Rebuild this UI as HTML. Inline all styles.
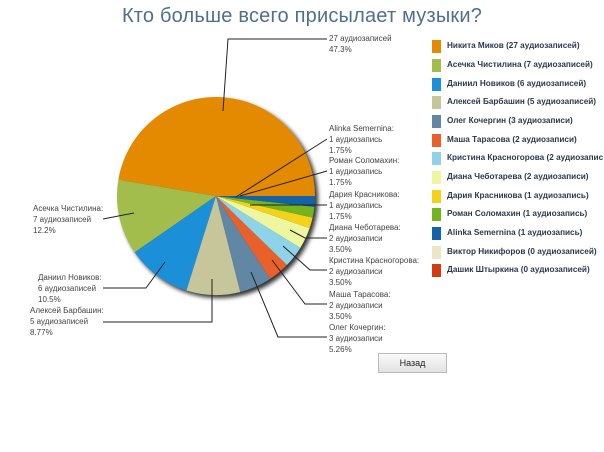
<!DOCTYPE html>
<html><head><meta charset="utf-8"><style>
body{margin:0;width:604px;height:452px;background:#fff;overflow:hidden;position:relative;font-family:"Liberation Sans","DejaVu Sans",sans-serif}
.t{position:absolute;left:0;top:5px;width:604px;text-align:center;font-size:20px;color:#4f6f8f;letter-spacing:0.2px}
.lab{position:absolute;font-size:8px;line-height:11px;color:#444}
.lg{position:absolute;left:432px;width:180px;font-size:8.2px;font-weight:bold;color:#2b3a4a;white-space:nowrap}
.lg i{position:absolute;left:0;top:0;width:9px;height:13px}
.lg span{position:absolute;left:15px;top:1px}
.btn{position:absolute;left:378px;top:353px;width:67px;height:18px;border:1px solid #bbb;background:linear-gradient(#fafafa,#e2e2e2);font-size:9px;text-align:center;line-height:18px;color:#222}
</style></head><body>
<div class="t">Кто больше всего присылает музыки?</div>
<svg id="s" width="604" height="452" style="position:absolute;left:0;top:0">
<defs><filter id="f" x="-20%" y="-20%" width="140%" height="140%"><feGaussianBlur stdDeviation="2"/></filter></defs>
<circle cx="219" cy="199" r="99" fill="#000" opacity="0.8" filter="url(#f)"/>
<g id="p"></g>
<g stroke="#222" stroke-width="1" fill="none">
<polyline points="223,111 228,39 327,39"/>
<polyline points="236,197 327,139"/>
<polyline points="240,196 327,171"/>
<polyline points="250,205 327,205"/>
<polyline points="290,230 305,238 327,238"/>
<polyline points="283,246 310,270 327,270"/>
<polyline points="272,260 305,304 327,304"/>
<polyline points="251,272 278,337 327,337"/>
<polyline points="103,219 134,213"/>
<polyline points="103,288 146,288 165,262"/>
<polyline points="103,322 212,322 212,279"/>
</g>
</svg>
<script>
var d=[[27,"#e38a00"],[7,"#a3bd4c"],[6,"#1b90d8"],[5,"#c6c69a"],[3,"#6187a5"],[2,"#e8612a"],[2,"#8ed3e8"],[2,"#eef7a0"],[1,"#f5d21a"],[1,"#74b41c"],[1,"#1463a8"]];
var cx=216,cy=196,r=99,a=0,h="";
d.forEach(function(e){var b=a+e[0]/57*2*Math.PI;
var x1=cx+r*Math.cos(a),y1=cy-r*Math.sin(a),x2=cx+r*Math.cos(b),y2=cy-r*Math.sin(b);
h+='<path d="M'+cx+','+cy+'L'+x1+','+y1+'A'+r+','+r+' 0 '+((b-a)>Math.PI?1:0)+' 0 '+x2+','+y2+'Z" fill="'+e[1]+'"/>';a=b;});
document.getElementById("p").innerHTML=h;
</script>
<div class="lab" style="left:329px;top:33px">27 аудиозаписей<br>47.3%</div>
<div class="lab" style="left:329px;top:123px">Alinka Semernina:<br>1 аудиозапись<br>1.75%</div>
<div class="lab" style="left:329px;top:155px">Роман Соломахин:<br>1 аудиозапись<br>1.75%</div>
<div class="lab" style="left:329px;top:189px">Дария Красникова:<br>1 аудиозапись<br>1.75%</div>
<div class="lab" style="left:329px;top:222px">Диана Чеботарева:<br>2 аудиозаписи<br>3.50%</div>
<div class="lab" style="left:329px;top:255px">Кристина Красногорова:<br>2 аудиозаписи<br>3.50%</div>
<div class="lab" style="left:329px;top:289px">Маша Тарасова:<br>2 аудиозаписи<br>3.50%</div>
<div class="lab" style="left:329px;top:322px">Олег Кочергин:<br>3 аудиозаписи<br>5.26%</div>
<div class="lab" style="left:33px;top:203px">Асечка Чистилина:<br>7 аудиозаписей<br>12.2%</div>
<div class="lab" style="left:38px;top:272px">Даниил Новиков:<br>6 аудиозаписей<br>10.5%</div>
<div class="lab" style="left:30px;top:305px">Алексей Барбашин:<br>5 аудиозаписей<br>8.77%</div>
<div class="lg" style="top:40px"><i style="background:#e38a00"></i><span>Никита Миков (27 аудиозаписей)</span></div>
<div class="lg" style="top:59px"><i style="background:#a3bd4c"></i><span>Асечка Чистилина (7 аудиозаписей)</span></div>
<div class="lg" style="top:78px"><i style="background:#1b90d8"></i><span>Даниил Новиков (6 аудиозаписей)</span></div>
<div class="lg" style="top:96px"><i style="background:#c6c69a"></i><span>Алексей Барбашин (5 аудиозаписей)</span></div>
<div class="lg" style="top:115px"><i style="background:#6187a5"></i><span>Олег Кочергин (3 аудиозаписи)</span></div>
<div class="lg" style="top:134px"><i style="background:#e8612a"></i><span>Маша Тарасова (2 аудиозаписи)</span></div>
<div class="lg" style="top:152px"><i style="background:#8ed3e8"></i><span>Кристина Красногорова (2 аудиозапис</span></div>
<div class="lg" style="top:171px"><i style="background:#eef7a0"></i><span>Диана Чеботарева (2 аудиозаписи)</span></div>
<div class="lg" style="top:190px"><i style="background:#f5d21a"></i><span>Дария Красникова (1 аудиозапись)</span></div>
<div class="lg" style="top:208px"><i style="background:#74b41c"></i><span>Роман Соломахин (1 аудиозапись)</span></div>
<div class="lg" style="top:227px"><i style="background:#1463a8"></i><span>Alinka Semernina (1 аудиозапись)</span></div>
<div class="lg" style="top:246px"><i style="background:#ece6c4"></i><span>Виктор Никифоров (0 аудиозаписей)</span></div>
<div class="lg" style="top:264px"><i style="background:#d23c10"></i><span>Дашик Штыркина (0 аудиозаписей)</span></div>
<div class="btn">Назад</div>
</body></html>
